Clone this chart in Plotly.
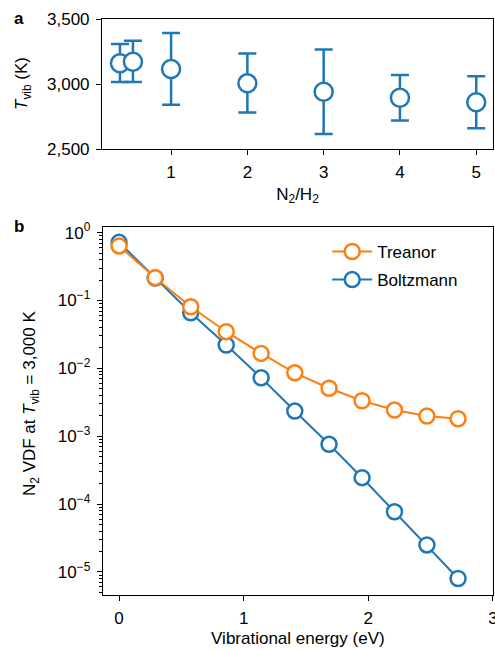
import plotly.graph_objects as go

# Panel a data
ratio = [0.33, 0.5, 1, 2, 3, 4, 5]
t_vib = [3160, 3172, 3116, 3005, 2941, 2894, 2859]
t_hi = [3307, 3332, 3392, 3234, 3265, 3070, 3059]
t_lo = [3015, 3015, 2840, 2781, 2616, 2720, 2659]

# Panel b data
energy = [0, 0.29, 0.575, 0.86, 1.14, 1.41, 1.685, 1.95, 2.21, 2.47, 2.72]
treanor = [0.637, 0.217, 0.081, 0.0347, 0.0166, 0.0086, 0.0051, 0.00333, 0.00243, 0.00198, 0.00181]
boltzmann = [0.72, 0.215, 0.066, 0.0221, 0.00727, 0.00235, 0.00076, 0.000245, 7.7e-5, 2.5e-5, 8.0e-6]

BLUE = "#1f77b4"
ORANGE = "#ff7f0e"
FONT = "Liberation Sans, Arial, sans-serif"
FS = 17
W, H = 495, 651

fig = go.Figure()

fig.add_trace(go.Scatter(
    x=ratio, y=t_vib, mode="markers", showlegend=False,
    marker=dict(size=18, color="white", line=dict(color=BLUE, width=2.5)),
    error_y=dict(type="data", symmetric=False,
                 array=[h - v for h, v in zip(t_hi, t_vib)],
                 arrayminus=[v - l for v, l in zip(t_vib, t_lo)],
                 color=BLUE, thickness=2.5, width=9),
    xaxis="x", yaxis="y"))

fig.add_trace(go.Scatter(
    x=energy, y=boltzmann, mode="lines+markers", name="Boltzmann", legendrank=2,
    legendgroup="b",
    line=dict(color=BLUE, width=2),
    marker=dict(size=15, color="white", line=dict(color=BLUE, width=2.5)),
    xaxis="x2", yaxis="y2"))
fig.add_trace(go.Scatter(
    x=energy, y=treanor, mode="lines+markers", name="Treanor", legendrank=1,
    legendgroup="t",
    line=dict(color=ORANGE, width=2),
    marker=dict(size=15, color="white", line=dict(color=ORANGE, width=2.5)),
    xaxis="x2", yaxis="y2"))

axis_common = dict(showline=True, linecolor="black", linewidth=1, mirror=True,
                   ticks="outside", ticklen=5, tickwidth=1, tickcolor="black",
                   showgrid=False, zeroline=False, automargin=False,
                   ticklabelstandoff=3, ticklabeloverflow="allow",
                   tickfont=dict(family=FONT, size=FS, color="black"))

minor_vals = [m * 10 ** e for e in range(-6, 1) for m in range(2, 10)]

fig.update_layout(
    width=W, height=H,
    margin=dict(l=0, r=0, t=0, b=0, autoexpand=False),
    paper_bgcolor="white", plot_bgcolor="white",
    font=dict(family=FONT, size=FS, color="black"),
    xaxis=dict(domain=[0.206, 0.996], anchor="y", range=[0.094, 5.22],
               tickvals=[1, 2, 3, 4, 5],
               title=dict(text="N<sub>2</sub>/H<sub>2</sub>", standoff=6,
                          font=dict(family=FONT, size=FS)),
               **axis_common),
    yaxis=dict(domain=[0.7711, 0.9708], anchor="x", range=[2500, 3500],
               tickvals=[2500, 3000, 3500], ticktext=["2,500", "3,000", "3,500"],
               **axis_common),
    xaxis2=dict(domain=[0.2075, 0.996], anchor="y2", range=[-0.131, 3.0005],
                tickvals=[0, 1, 2, 3],
                title=dict(text="Vibrational energy (eV)", standoff=4,
                           font=dict(family=FONT, size=FS)),
                **axis_common),
    yaxis2=dict(domain=[0.086, 0.6518], anchor="x2", type="log", range=[-5.34, 0.088],
                tickvals=[1, 1e-1, 1e-2, 1e-3, 1e-4, 1e-5],
                ticktext=["10<sup>0</sup>", "10<sup>−1</sup>", "10<sup>−2</sup>",
                          "10<sup>−3</sup>", "10<sup>−4</sup>", "10<sup>−5</sup>"],
                minor=dict(ticks="outside", ticklen=3, tickcolor="black", tickvals=minor_vals),
                **axis_common),
    legend=dict(x=0.661, y=0.6406, xanchor="left", yanchor="top",
                bgcolor="rgba(0,0,0,0)", font=dict(family=FONT, size=FS),
                traceorder="grouped", itemwidth=40, tracegroupgap=3),
    annotations=[
        dict(text="<b>a</b>", x=0.025, y=0.972, xref="paper", yref="paper",
             showarrow=False, xanchor="left", yanchor="middle",
             font=dict(family=FONT, size=FS)),
        dict(text="<b>b</b>", x=0.025, y=0.652, xref="paper", yref="paper",
             showarrow=False, xanchor="left", yanchor="middle",
             font=dict(family=FONT, size=FS)),
        dict(text="<i>T</i><sub>vib</sub> (K)", textangle=-90,
             x=23 / W, y=1 - 84 / H, xref="paper", yref="paper",
             showarrow=False, xanchor="center", yanchor="middle",
             font=dict(family=FONT, size=FS)),
        dict(text="N<sub>2</sub> VDF at <i>T</i><sub>vib</sub> = 3,000 K", textangle=-90,
             x=31 / W, y=1 - 404 / H, xref="paper", yref="paper",
             showarrow=False, xanchor="center", yanchor="middle",
             font=dict(family=FONT, size=FS)),
    ],
)

fig.write_html("out.html", config={"displayModeBar": False},
               post_script="document.body.style.margin='0';")
